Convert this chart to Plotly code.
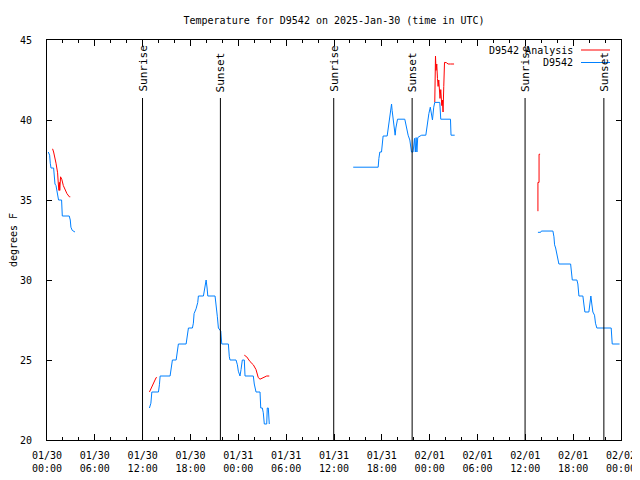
import pandas as pd
import plotly.graph_objects as go

START = pd.Timestamp("2025-01-30 00:00")

# Hours since 2025-01-30 00:00 UTC; None separates data gaps
obs_hours = [
    0.16, 0.33, 0.41, 0.50, 0.83, 0.91, 1.00, 1.13, 1.25, 1.33, 1.45, 1.83, 1.92, 2.79, 2.92, 3.00, 3.17, 3.51,
    None,
    12.85, 13.03, 13.15, 13.98, 14.10, 14.19, 15.44, 15.57, 15.73, 16.20, 16.28, 16.48, 17.45, 17.61, 17.74,
    18.24, 18.36, 18.45, 18.70, 18.91, 18.99, 19.62, 19.83, 19.96, 20.08, 20.17, 21.08, 21.21, 21.37, 21.50,
    21.80, 21.92, 22.75, 22.87, 22.96, 23.71, 23.88, 24.00, 24.21, 24.34, 24.50, 24.75, 24.84, 25.88, 26.00,
    26.22, 26.72, 26.81, 27.01, 27.13, 27.26, 27.56, 27.63, 27.76, 27.88,
    None,
    38.41, 41.54, 41.63, 41.75, 41.96, 42.04, 42.16, 42.67, 42.79, 42.92, 43.00, 43.09, 43.22, 43.29, 43.42,
    43.54, 43.67, 43.76, 43.84, 43.97, 44.88, 45.00, 45.17, 45.30, 45.51, 45.64, 45.72, 45.92, 46.01, 46.10,
    46.20, 46.30, 46.40, 46.50, 46.80, 47.00, 47.52, 47.60, 47.80, 47.90, 48.08, 48.20, 48.35, 48.51, 48.64,
    49.27, 49.39, 50.61, 50.68, 51.14,
    None,
    61.58, 61.92, 62.01, 63.46, 63.59, 63.67, 63.80, 63.89, 64.01, 64.14, 64.21, 65.68, 65.76, 65.89, 66.47,
    66.59, 66.72, 67.22, 67.34, 67.47, 67.97, 68.09, 68.22, 68.34, 68.47, 68.68, 68.80, 68.97, 70.77, 70.90,
    71.82,
]
obs_temp = [
    38.0, 37.8, 37.3, 37.0, 37.0, 36.7, 36.0, 35.9, 35.6, 35.3, 35.0, 35.0, 34.0, 34.0, 33.75, 33.3, 33.1, 33.0,
    None,
    22.0, 22.3, 23.0, 23.0, 23.45, 24.0, 24.0, 24.4, 25.0, 25.0, 25.3, 26.0, 26.0, 26.5, 27.0,
    27.0, 27.3, 27.9, 28.2, 28.6, 29.0, 29.0, 29.7, 30.0, 29.5, 29.0, 29.0, 28.5, 27.7, 27.0,
    26.8, 26.0, 26.0, 25.2, 25.0, 25.0, 24.7, 24.3, 24.0, 24.4, 25.0, 25.0, 24.0, 24.0, 23.5,
    23.0, 23.0, 22.0, 22.0, 21.7, 21.0, 21.0, 22.0, 22.0, 21.0,
    None,
    37.05, 37.05, 37.6, 38.0, 38.0, 38.45, 39.0, 39.0, 39.4, 39.9, 40.3, 40.7, 41.0, 40.6, 39.9,
    39.5, 39.05, 39.5, 39.8, 40.05, 40.05, 39.7, 39.4, 39.05, 38.75, 38.3, 38.0, 38.0, 38.3, 38.85,
    38.0, 38.9, 38.0, 38.9, 39.0, 39.05, 39.05, 39.4, 40.0, 40.4, 40.8, 40.4, 40.0, 40.8, 41.1,
    41.1, 40.05, 40.05, 39.05, 39.05,
    None,
    32.98, 32.98, 33.06, 33.06, 32.7, 32.2, 32.0, 31.8, 31.5, 31.25, 31.0, 31.0, 30.5, 30.0, 30.0,
    29.75, 29.0, 29.0, 28.5, 28.0, 28.0, 28.75, 29.0, 28.5, 28.0, 27.8, 27.3, 27.0, 27.0, 26.0,
    26.0,
]

ana_hours = [
    0.70, 0.83, 1.13, 1.33, 1.42, 1.50, 1.55, 1.60, 1.70, 1.85, 2.05, 2.30, 2.50, 2.80, 2.92,
    None,
    12.85, 13.03, 13.35, 13.69, 13.78,
    None,
    24.75, 25.05, 25.47, 25.88, 26.22, 26.50, 26.72, 27.13, 27.56, 27.88,
    None,
    48.64, 48.73, 48.80, 48.89, 48.98, 49.06, 49.14, 49.23, 49.30, 49.39, 49.52, 49.60, 49.68, 49.77, 49.86,
    50.11, 50.31, 50.61, 51.06,
    None,
    61.58, 61.58, 61.72, 61.72, 61.85,
]
ana_temp = [
    38.2, 38.0, 37.3, 36.7, 36.0, 35.6, 36.1, 35.6, 36.45, 36.3, 35.9, 35.6, 35.4, 35.2, 35.2,
    None,
    23.0, 23.2, 23.5, 23.9, 23.9,
    None,
    25.3, 25.2, 24.9, 24.7, 24.4, 23.9, 23.8, 23.9, 24.0, 24.0,
    None,
    41.1, 44.0, 43.1, 43.5, 42.6, 42.1, 42.5, 41.7, 41.35, 41.9, 40.9, 41.25, 40.5, 42.1, 43.6,
    43.58, 43.5, 43.5, 43.5,
    None,
    34.3, 36.1, 36.1, 37.86, 37.86,
]

sun_events = ["Sunrise", "Sunset", "Sunrise", "Sunset", "Sunrise", "Sunset"]
sun_times = ["2025-01-30 11:59", "2025-01-30 21:45", "2025-01-31 11:58",
             "2025-01-31 21:48", "2025-02-01 11:58", "2025-02-01 21:51"]

tick_times = ["2025-01-30 00:00", "2025-01-30 06:00", "2025-01-30 12:00", "2025-01-30 18:00",
              "2025-01-31 00:00", "2025-01-31 06:00", "2025-01-31 12:00", "2025-01-31 18:00",
              "2025-02-01 00:00", "2025-02-01 06:00", "2025-02-01 12:00", "2025-02-01 18:00",
              "2025-02-02 00:00"]
tick_labels = ["01/30<br>00:00", "01/30<br>06:00", "01/30<br>12:00", "01/30<br>18:00",
               "01/31<br>00:00", "01/31<br>06:00", "01/31<br>12:00", "01/31<br>18:00",
               "02/01<br>00:00", "02/01<br>06:00", "02/01<br>12:00", "02/01<br>18:00",
               "02/02<br>00:00"]

RED = "#ff0000"
BLUE = "#0080ff"
FONT = "DejaVu Sans Mono"

# the page body has an 8px margin; lay the figure out so it lands on the 640x480 window
OFF = 8
FW, FH = 640 - OFF, 480 - OFF
L, R, T, B = 47 - OFF, 621 - OFF, 40 - OFF, 440 - OFF
PW, PH = R - L, B - T


def px_x(x):  # reference pixel -> paper fraction
    return (x - OFF - L) / PW


def px_y(y):
    return (B - (y - OFF)) / PH


def to_time(hours):
    return [None if h is None else START + pd.Timedelta(hours=h) for h in hours]


fig = go.Figure()
fig.add_trace(go.Scatter(x=to_time(ana_hours), y=ana_temp, mode="lines",
                         line=dict(color=RED, width=1), name="D9542 Analysis", showlegend=False))
fig.add_trace(go.Scatter(x=to_time(obs_hours), y=obs_temp, mode="lines",
                         line=dict(color=BLUE, width=1), name="D9542", showlegend=False))

for ev, t in zip(sun_events, sun_times):
    fig.add_shape(type="line", xref="x", yref="paper", x0=t, x1=t, y0=0, y1=px_y(98),
                  line=dict(color="black", width=1))
    fig.add_annotation(x=t, xref="x", y=px_y(94), yref="paper", text=ev,
                       textangle=-90, showarrow=False, xanchor="center", yanchor="bottom",
                       font=dict(family=FONT, size=11, color="black"))

# gnuplot-style key (text then line sample)
for i, (name, col) in enumerate([("D9542 Analysis", RED), ("D9542", BLUE)]):
    ypix = 50 + i * 12.5
    fig.add_annotation(x=px_x(575), xref="paper", y=px_y(ypix), yref="paper", text=name,
                       showarrow=False, xanchor="right", yanchor="middle",
                       font=dict(family=FONT, size=10, color="black"))
    fig.add_shape(type="line", xref="paper", yref="paper", x0=px_x(581), x1=px_x(610),
                  y0=px_y(ypix), y1=px_y(ypix), line=dict(color=col, width=1))

axis_common = dict(showline=True, linecolor="black", linewidth=1, mirror="ticks",
                   ticks="inside", tickcolor="black", showgrid=False, zeroline=False,
                   automargin=False,
                   tickfont=dict(family=FONT, size=10, color="black"))

fig.update_layout(
    width=FW, height=FH,
    margin=dict(l=L, r=FW - R, t=T, b=FH - B, autoexpand=False),
    paper_bgcolor="white", plot_bgcolor="white",
    title=dict(text="Temperature for D9542 on 2025-Jan-30 (time in UTC)",
               x=px_x(334), xref="paper", xanchor="center", y=1 - (20 - OFF) / FH, yanchor="middle",
               automargin=False,
               font=dict(family=FONT, size=10, color="black")),
    xaxis=dict(range=["2025-01-30 00:00", "2025-02-02 00:00"], tickvals=tick_times,
               ticktext=tick_labels, ticklen=6, ticklabelstandoff=6,
               minor=dict(dtick=7200000, tick0="2025-01-30", ticks="inside", ticklen=3,
                          tickcolor="black", showgrid=False),
               **axis_common),
    yaxis=dict(range=[20, 45], dtick=5, ticklen=5, ticklabelstandoff=12,
               title=dict(text="degrees F", standoff=9, font=dict(family=FONT, size=10, color="black")),
               **axis_common),
)

fig.write_html("out.html")
